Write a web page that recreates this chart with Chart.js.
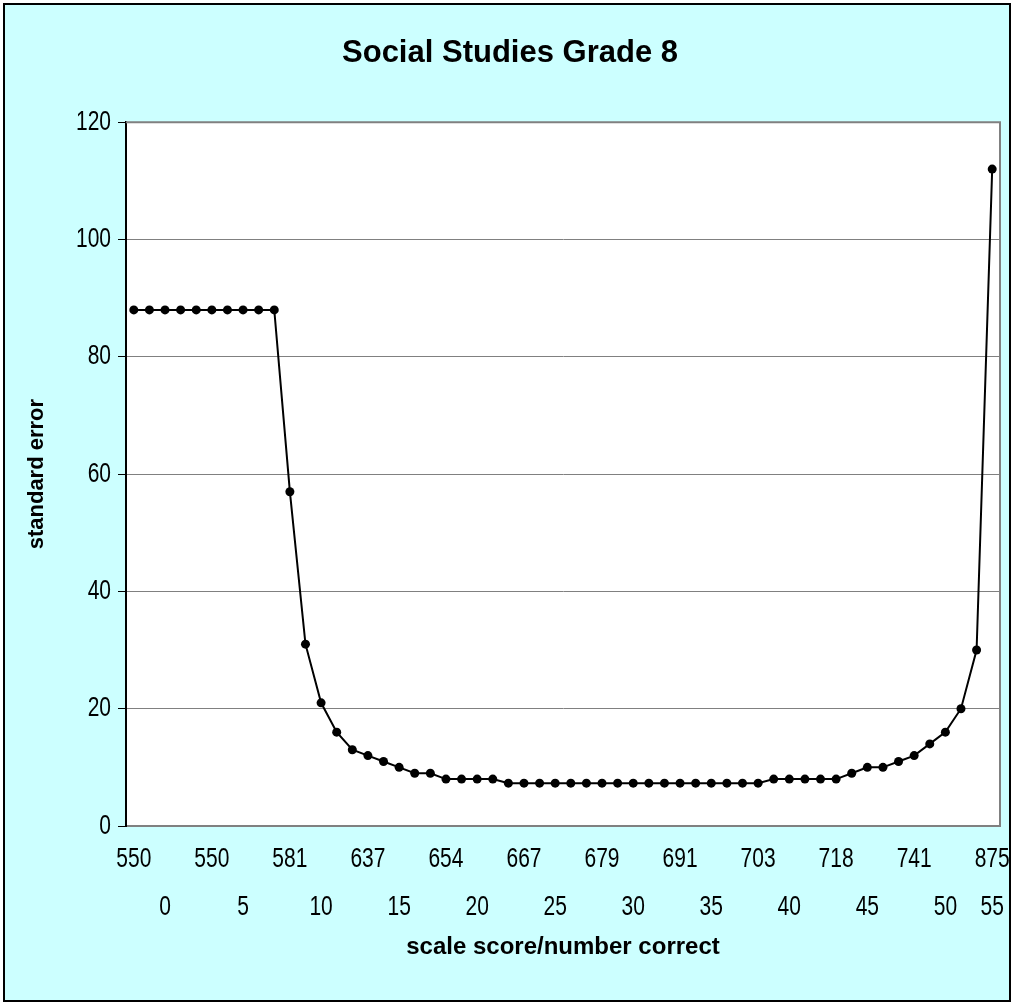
<!DOCTYPE html>
<html>
<head>
<meta charset="utf-8">
<title>Social Studies Grade 8</title>
<script src="https://cdn.jsdelivr.net/npm/chart.js@4/dist/chart.umd.min.js"></script>
<style>
  html, body { margin: 0; padding: 0; background: #fff; }
  #frame {
    position: absolute; left: 3px; top: 3px;
    width: 1004px; height: 995px;
    background: #ccffff; border: 2px solid #000;
  }
  #chart { position: absolute; left: 0; top: 0; }
</style>
</head>
<body>
<div id="frame"></div>
<canvas id="chart" width="1013" height="1003"></canvas>
<script>
// ----- Data -----
const numberCorrect = Array.from({ length: 56 }, (_, i) => i); // categories 0..55

const standardError = [
  88, 88, 88, 88, 88, 88, 88, 88, 88, 88,
  57, 31, 21, 16, 13, 12, 11, 10, 9, 9,
  8, 8, 8, 8, 7.3, 7.3, 7.3, 7.3, 7.3, 7.3,
  7.3, 7.3, 7.3, 7.3, 7.3, 7.3, 7.3, 7.3, 7.3, 7.3,
  7.3, 8, 8, 8, 8, 8, 9, 10, 10, 11,
  12, 14, 16, 20, 30, 112
];

// first label row: scale scores, shown at these categories
const scaleScoreTicks = ['550', '550', '581', '637', '654', '667', '679', '691', '703', '718', '741', '875'];
const scaleScoreAt = [0, 5, 10, 15, 20, 25, 30, 35, 40, 45, 50, 55];

// second label row: number correct (sits a little off the first row in the original)
const correctTicks = ['0', '5', '10', '15', '20', '25', '30', '35', '40', '45', '50', '55'];
const correctAt = [2, 7, 12, 17, 22, 27, 32, 37, 42, 47, 52, 55];

const yTicks = [0, 20, 40, 60, 80, 100, 120];

// ----- build the two label rows -----
const row1 = numberCorrect.map(() => '');
scaleScoreAt.forEach((c, k) => { row1[c] = scaleScoreTicks[k]; });
const row2 = numberCorrect.map(() => '');
correctAt.forEach((c, k) => { row2[c] = correctTicks[k]; });

const arial = '"Liberation Sans", Arial, sans-serif';
const tickFont = { family: arial, size: 21 };
const STRETCH = 1.3; // tick digits in the original are drawn tall

// white plot area with grey frame
const plotFrame = {
  id: 'plotFrame',
  beforeDraw(chart) {
    const { ctx, chartArea: a } = chart;
    ctx.save();
    ctx.fillStyle = '#fff';
    ctx.fillRect(a.left, a.top, a.width, a.height);
    ctx.restore();
  },
  afterDraw(chart) {
    const { ctx, chartArea: a } = chart;
    ctx.save();
    ctx.strokeStyle = '#808080';
    ctx.lineWidth = 2;
    ctx.beginPath();
    ctx.moveTo(a.left, a.top);
    ctx.lineTo(a.right, a.top);
    ctx.lineTo(a.right, a.bottom);
    ctx.stroke();
    ctx.restore();
  }
};

// redraw the tick labels where the scales put them, a bit taller
const tallTicks = {
  id: 'tallTicks',
  afterDraw(chart) {
    const ctx = chart.ctx;
    ['x', 'x2', 'y'].forEach(id => {
      const scale = chart.scales[id];
      scale.getLabelItems().forEach(item => {
        if (!item.label) return;
        const [tx, ty] = item.options.translation;
        ctx.save();
        ctx.translate(tx, ty + item.textOffset);
        ctx.scale(1, STRETCH);
        ctx.font = item.font.string;
        ctx.fillStyle = '#000';
        ctx.textAlign = item.options.textAlign;
        ctx.textBaseline = 'middle';
        ctx.fillText(item.label, 0, 0);
        ctx.restore();
      });
    });
  }
};

const hidden = 'rgba(0,0,0,0)';

function noSidePadding(scale) {
  scale.paddingLeft = 0;
  scale.paddingRight = 0;
}

new Chart(document.getElementById('chart'), {
  type: 'line',
  data: {
    labels: row1,
    datasets: [{
      data: standardError,
      borderColor: '#000',
      backgroundColor: '#000',
      borderWidth: 2,
      tension: 0,
      pointRadius: 4.5,
      pointBackgroundColor: '#000',
      pointBorderWidth: 0,
      xAxisID: 'x',
      yAxisID: 'y'
    }]
  },
  options: {
    responsive: false,
    animation: false,
    devicePixelRatio: 1,
    layout: { padding: { left: 20, right: 13, top: 1, bottom: 0 } },
    plugins: {
      legend: { display: false },
      tooltip: { enabled: false },
      title: {
        display: true,
        text: 'Social Studies Grade 8',
        color: '#000',
        font: { family: arial, size: 31, weight: 'bold' },
        padding: { top: 34, bottom: 50 }
      }
    },
    scales: {
      x: {
        type: 'category',
        offset: true,
        position: 'bottom',
        grid: { display: false, drawTicks: false },
        border: { display: true, color: '#808080', width: 2 },
        ticks: {
          autoSkip: false,
          maxRotation: 0,
          color: hidden,
          padding: 21,
          font: tickFont
        },
        afterFit(scale) { scale.height = 56; noSidePadding(scale); }
      },
      x2: {
        type: 'category',
        labels: row2,
        offset: true,
        position: 'bottom',
        grid: { display: false, drawTicks: false },
        border: { display: false },
        ticks: {
          autoSkip: false,
          maxRotation: 0,
          color: hidden,
          padding: 13,
          font: tickFont
        },
        title: {
          display: true,
          text: 'scale score/number correct',
          color: '#000',
          font: { family: arial, size: 24, weight: 'bold' },
          padding: { top: 0, bottom: 41 }
        },
        afterFit(scale) { scale.height = 121; noSidePadding(scale); }
      },
      y: {
        min: 0,
        max: 120,
        afterBuildTicks(scale) { scale.ticks = yTicks.map(v => ({ value: v })); },
        grid: { color: '#808080', lineWidth: 1, tickLength: 8, tickColor: '#000' },
        border: { display: true, color: '#000', width: 2 },
        ticks: {
          color: hidden,
          padding: 7,
          font: tickFont
        },
        title: {
          display: true,
          text: 'standard error',
          color: '#000',
          font: { family: arial, size: 22, weight: 'bold' },
          padding: { top: 4, bottom: 0 }
        },
        afterFit(scale) { scale.width = 106; }
      }
    }
  },
  plugins: [plotFrame, tallTicks]
});
</script>
</body>
</html>
